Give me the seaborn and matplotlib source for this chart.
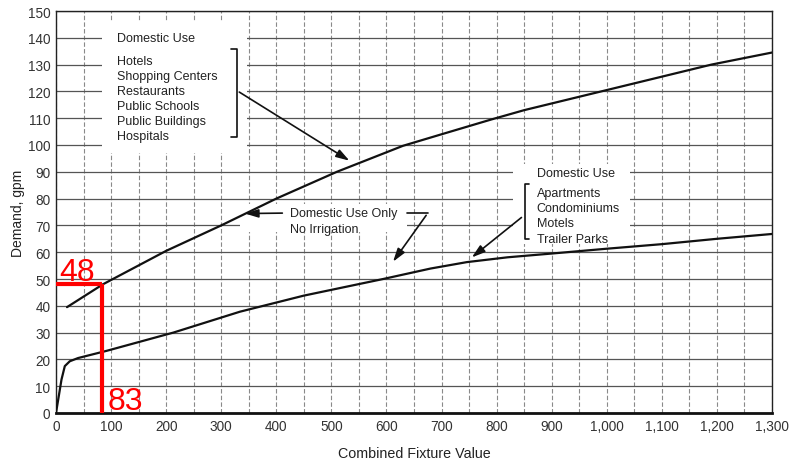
import pandas as pd
import seaborn as sns
import matplotlib.pyplot as plt
from matplotlib.patches import Rectangle
from matplotlib.ticker import FuncFormatter, MultipleLocator

# data
upper_fixture = [20, 85, 200, 300, 400, 510, 630, 700, 790, 850, 990, 1190, 1300]
upper_demand = [39.5, 48, 60.5, 70, 80, 90, 99.7, 104, 109.5, 113, 120, 130, 134.5]

lower_fixture = [0, 4, 10, 16, 25, 40, 92, 213, 334, 450, 594, 680, 746, 820, 900, 1000, 1100, 1200, 1300]
lower_demand = [0, 5, 12.5, 17.5, 19.3, 20.5, 23.2, 30, 37.8, 43.8, 50, 53.9, 56.3, 58.1, 59.5, 61.3, 63, 65, 66.8]

upper_title = "Domestic Use"
upper_items = ["Hotels", "Shopping Centers", "Restaurants", "Public Schools",
               "Public Buildings", "Hospitals"]
lower_title = "Domestic Use"
lower_items = ["Apartments", "Condominiums", "Motels", "Trailer Parks"]
middle_text = ["Domestic Use Only", "No Irrigation"]

marked_fixture = 83
marked_demand = 48

x_ticks = list(range(0, 1301, 100))
y_ticks = list(range(0, 151, 10))

sns.set_style("white")
plt.rcParams['font.family'] = ['Liberation Sans', 'DejaVu Sans']

fig = plt.figure(figsize=(7.91, 4.64), dpi=100)
ax = fig.add_axes([56 / 791, 1 - 414 / 464, 716 / 791, 402 / 464])

upper = pd.DataFrame({'fixture': upper_fixture, 'demand': upper_demand})
lower = pd.DataFrame({'fixture': lower_fixture, 'demand': lower_demand})
sns.lineplot(data=upper, x='fixture', y='demand', color='#111111', lw=1.6, ax=ax, zorder=3)
sns.lineplot(data=lower, x='fixture', y='demand', color='#111111', lw=1.6, ax=ax, zorder=3)

ax.set_xlim(0, 1300)
ax.set_ylim(0, 150)
ax.set_xticks(x_ticks)
ax.xaxis.set_minor_locator(MultipleLocator(50))
ax.set_yticks(y_ticks)
ax.xaxis.set_major_formatter(FuncFormatter(lambda v, p: f"{int(v):,}"))
ax.tick_params(which='both', length=0, labelsize=9.8, labelcolor='#333333')
ax.tick_params(axis='y', pad=4)
ax.tick_params(axis='x', pad=4)

# grid: solid rows every 10, dashed columns every 50
ax.set_axisbelow(True)
ax.grid(axis='y', which='major', color='#555555', lw=0.9)
ax.grid(axis='x', which='both', color='#8a8a8a', lw=0.8, ls=(0, (4, 2)))

for side in ['left', 'right', 'top']:
    ax.spines[side].set_color('#222222')
    ax.spines[side].set_linewidth(1.0)
ax.spines['bottom'].set_color('#111111')
ax.spines['bottom'].set_linewidth(2.0)

ax.set_xlabel("Combined Fixture Value", fontsize=10.3, color='#222222', labelpad=10)
ax.set_ylabel("Demand, gpm", fontsize=10, color='#222222', labelpad=2)

# white patches behind the labels
for x0, y0, w, h in [(83, 97, 264, 49), (829, 63, 213, 30), (334, 67.5, 303, 10.5)]:
    ax.add_patch(Rectangle((x0, y0), w, h, facecolor='white', edgecolor='none', zorder=1))

txt = dict(fontsize=9, color='#222222', zorder=4)
arrow = dict(arrowstyle='-|>,head_length=0.8,head_width=0.25', color='#111111', lw=1.2)

# upper block
ax.text(111, 139.9, upper_title, va='center', **txt)
ax.text(111, 117.4, "\n".join(upper_items), va='center', linespacing=1.34, **txt)
ax.plot([318, 328.5, 328.5, 318], [135.8, 135.8, 103, 103], color='#111111', lw=1.2, zorder=4)
ax.annotate("", xy=(537, 93.6), xytext=(328.5, 120.3), arrowprops=arrow, zorder=4)

# middle block
ax.text(425, 71.6, "\n".join(middle_text), va='center', linespacing=1.51, **txt)
ax.annotate("", xy=(338, 74.4), xytext=(416, 74.6), arrowprops=arrow, zorder=4)
ax.plot([637, 675], [74.6, 74.6], color='#111111', lw=1.2, zorder=4)
ax.annotate("", xy=(609, 55.6), xytext=(675, 74.6), arrowprops=arrow, zorder=4)

# lower block
ax.text(873, 89.6, lower_title, va='center', **txt)
ax.text(873, 73.6, "\n".join(lower_items), va='center', linespacing=1.37, **txt)
ax.plot([858, 851, 851, 858], [85.4, 85.4, 64.9, 64.9], color='#111111', lw=1.2, zorder=4)
ax.annotate("", xy=(751, 57.4), xytext=(849, 73.6), arrowprops=arrow, zorder=4)

# red read-off marks
ax.plot([0, marked_fixture], [marked_demand, marked_demand], color='red', lw=3, zorder=5,
        solid_capstyle='butt', clip_on=False)
ax.plot([marked_fixture, marked_fixture], [0, marked_demand], color='red', lw=3, zorder=5,
        solid_capstyle='butt', clip_on=False)
ax.text(5, 49.5, str(marked_demand), color='red', fontsize=23, va='baseline', zorder=6)
ax.text(94, 1.5, str(marked_fixture), color='red', fontsize=23, va='baseline', zorder=6)

fig.savefig('out.png', dpi=100)
